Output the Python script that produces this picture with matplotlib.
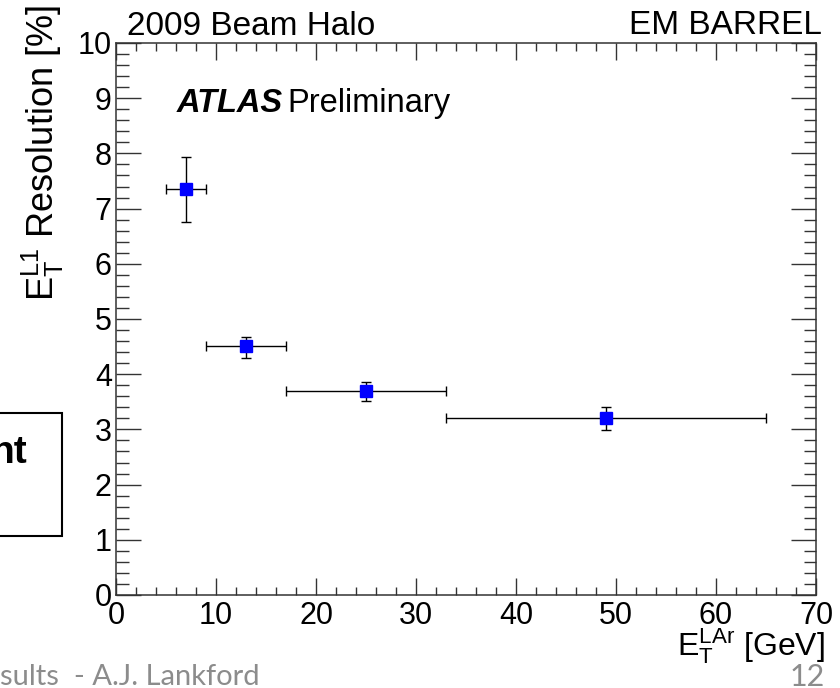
import matplotlib
matplotlib.use("Agg")
import matplotlib.pyplot as plt
from matplotlib.patches import Rectangle
from matplotlib.ticker import MultipleLocator

plt.rcParams['font.family'] = ['Liberation Sans', 'DejaVu Sans']
plt.rcParams['mathtext.fontset'] = 'custom'
plt.rcParams['mathtext.rm'] = 'Liberation Sans'
plt.rcParams['mathtext.it'] = 'Liberation Sans:italic'

# datos
et_lar = [7, 13, 25, 49]
et_lo = [5, 9, 17, 33]
et_hi = [9, 17, 33, 65]
resol = [7.36, 4.51, 3.69, 3.20]
res_lo = [6.76, 4.29, 3.52, 2.99]
res_hi = [7.94, 4.68, 3.86, 3.40]

xerr = [[x - lo for x, lo in zip(et_lar, et_lo)],
        [hi - x for x, hi in zip(et_lar, et_hi)]]
yerr = [[y - lo for y, lo in zip(resol, res_lo)],
        [hi - y for y, hi in zip(resol, res_hi)]]

W, H = 840, 688
fig = plt.figure(figsize=(W / 100, H / 100), dpi=100)
ax = fig.add_axes([116 / W, 1 - 595 / H, 700 / W, 552 / H])

ax.errorbar(et_lar, resol, xerr=xerr, yerr=yerr, fmt='s', color='#0000ff',
            markersize=8.5, ecolor='black', elinewidth=1, capsize=3.5,
            capthick=1, zorder=3)

ax.set_xlim(0, 70)
ax.set_ylim(0, 10)
ax.xaxis.set_major_locator(MultipleLocator(10))
ax.xaxis.set_minor_locator(MultipleLocator(2))
ax.yaxis.set_major_locator(MultipleLocator(1))
ax.yaxis.set_minor_locator(MultipleLocator(0.2))
ax.tick_params(axis='both', which='both', direction='in', top=True, right=True,
               labelsize=22, width=1, color='#333333')
ax.tick_params(axis='x', which='major', length=12, pad=4)
ax.tick_params(axis='x', which='minor', length=6)
ax.tick_params(axis='y', which='major', length=18, pad=3)
ax.tick_params(axis='y', which='minor', length=9)
for s in ax.spines.values():
    s.set_linewidth(1.1)
    s.set_color('#333333')

# titulos de los ejes (estilo ROOT, alineados al extremo)
fig.text(825 / W, 1 - 655 / H, r'E$_{\mathrm{T}}^{\mathrm{LAr}}$ [GeV]',
         fontsize=23, ha='right', va='baseline')
fig.text(20 / W, 1 - 5 / H, r'E$_{\mathrm{T}}^{\mathrm{L1}}$ Resolution [%]',
         fontsize=26, rotation=90, ha='left', va='top')

ax.text(6.1, 8.75, 'ATLAS', fontsize=23.5, fontweight='bold', style='italic')
ax.text(17.1, 8.75, 'Preliminary', fontsize=23.5)

fig.text(127 / W, 1 - 35 / H, '2009 Beam Halo', fontsize=24, ha='left',
         va='baseline')
fig.text(822 / W, 1 - 34 / H, 'EM BARREL', fontsize=24, ha='right',
         va='baseline')

# restos de la diapositiva
fig.patches.append(Rectangle((-10 / W, 1 - 536 / H), 72 / W, 123 / H,
                             transform=fig.transFigure, fill=False,
                             edgecolor='black', linewidth=1.5))
fig.text(27 / W, 1 - 463 / H, 'nt', fontsize=28, fontweight='bold',
         ha='right', va='baseline')
fig.text(0, 1 - 685 / H, 'sults  - A.J. Lankford', fontsize=21, color='#8c8c8c',
         family=['Lato', 'DejaVu Sans'], ha='left', va='baseline')
fig.text(825 / W, 1 - 686 / H, '12', fontsize=22, color='#8c8c8c',
         family=['Lato', 'DejaVu Sans'], ha='right', va='baseline')

fig.savefig('out.png', dpi=100)
